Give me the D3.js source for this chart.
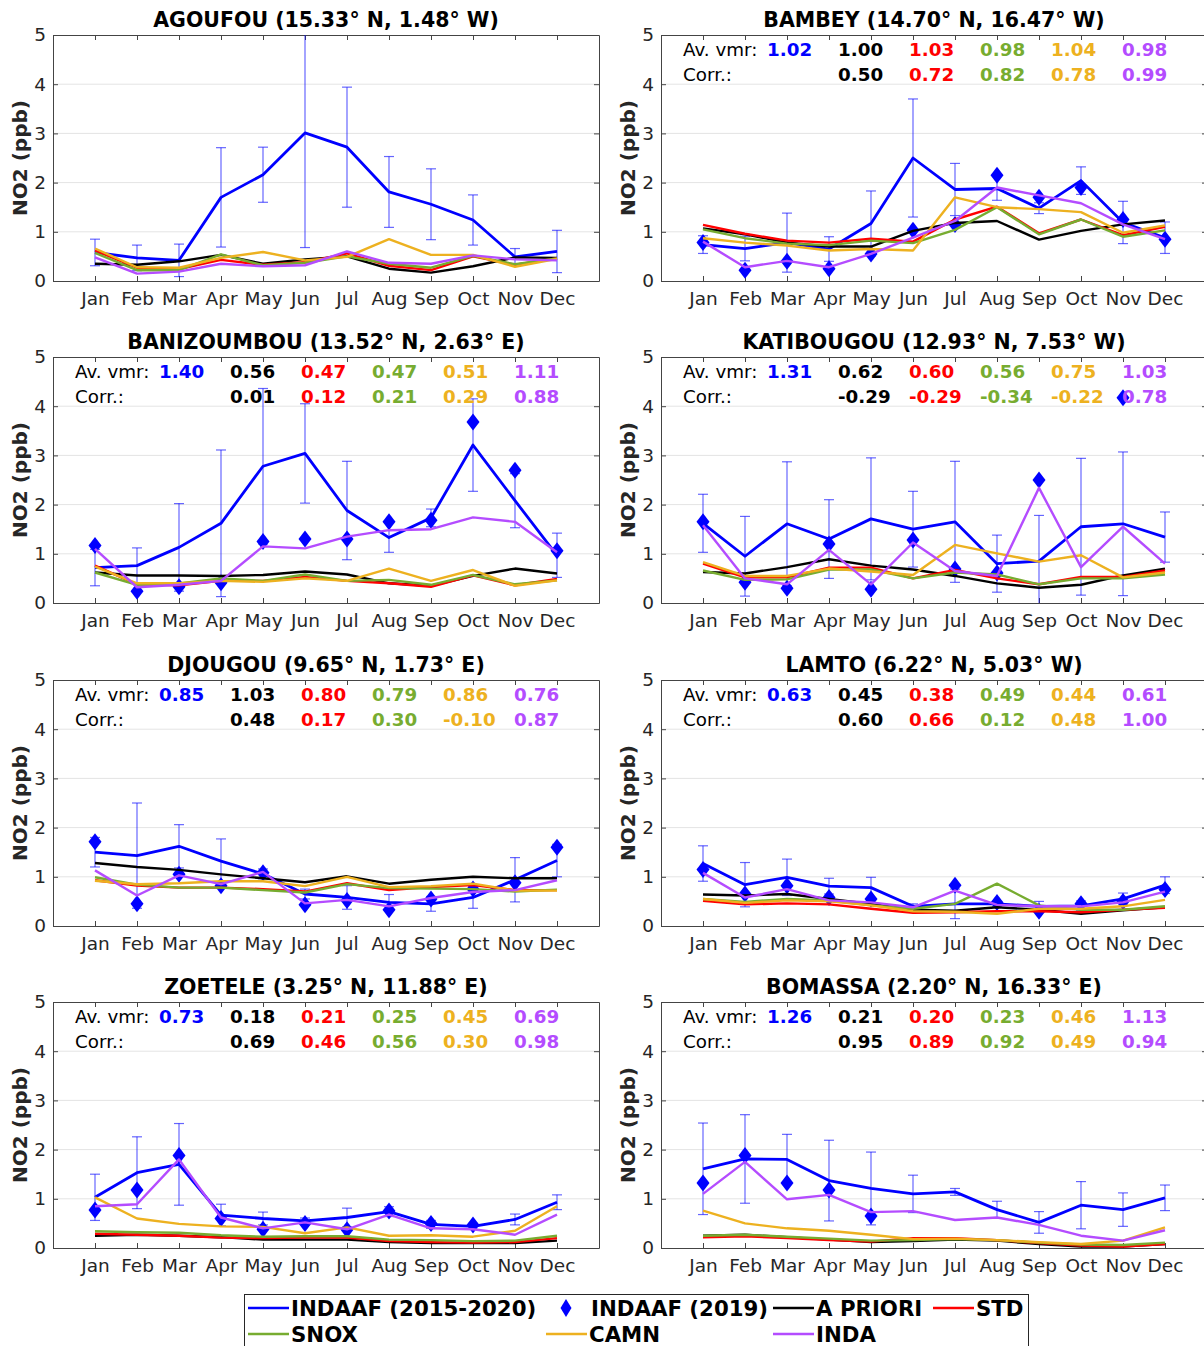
<!DOCTYPE html>
<html><head><meta charset="utf-8">
<script src="https://cdn.jsdelivr.net/npm/d3@7"></script>
<style>
body{margin:0;background:#fff}
svg{display:block}
text{font-family:"DejaVu Sans",sans-serif}
</style>
</head><body>
<svg id="c" width="1204" height="1346"></svg>
<script>
// ---------------- DATA ----------------
const months = ["Jan","Feb","Mar","Apr","May","Jun","Jul","Aug","Sep","Oct","Nov","Dec"];
const stations = ["AGOUFOU","BAMBEY","BANIZOUMBOU","KATIBOUGOU","DJOUGOU","LAMTO","ZOETELE","BOMASSA"];
const coords = ["15.33° N, 1.48° W","14.70° N, 16.47° W","13.52° N, 2.63° E","12.93° N, 7.53° W",
                "9.65° N, 1.73° E","6.22° N, 5.03° W","3.25° N, 11.88° E","2.20° N, 16.33° E"];
const seriesNames = ["INDAAF (2015-2020)","INDAAF (2019)","A PRIORI","STD","SNOX","CAMN","INDA"];

// INDAAF 2015-2020 monthly climatology (ppb)
const indaafClim = [
  [0.58,0.47,0.42,1.70,2.16,3.01,2.72,1.81,1.56,1.24,0.49,0.60],
  [0.74,0.66,0.78,0.65,1.17,2.50,1.86,1.88,1.48,2.04,1.19,0.88],
  [0.72,0.76,1.13,1.62,2.78,3.04,1.88,1.33,1.73,3.21,2.08,0.97],
  [1.62,0.95,1.61,1.30,1.71,1.50,1.65,0.80,0.85,1.55,1.61,1.34],
  [1.50,1.43,1.62,1.32,1.06,0.65,0.58,0.48,0.45,0.58,0.94,1.33],
  [1.27,0.84,0.99,0.81,0.78,0.40,0.45,0.45,0.40,0.41,0.55,0.83],
  [1.03,1.53,1.70,0.67,0.60,0.55,0.62,0.74,0.48,0.44,0.58,0.93],
  [1.61,1.81,1.80,1.37,1.21,1.10,1.14,0.78,0.52,0.87,0.78,1.02]
];
// INDAAF 2015-2020 standard deviation (error bars)
const indaafStd = [
  [0.27,0.26,0.33,1.01,0.56,2.33,1.22,0.72,0.72,0.51,0.17,0.43],
  [0.18,0.25,0.60,0.25,0.66,1.20,0.53,0.24,0.11,0.28,0.43,0.32],
  [0.37,0.36,0.89,1.49,1.58,1.01,1.00,0.30,0.18,0.94,0.55,0.45],
  [0.59,0.81,1.26,0.80,1.24,0.77,1.23,0.58,0.93,1.39,1.46,0.51],
  [0.30,1.07,0.44,0.45,0.10,0.10,0.24,0.16,0.15,0.22,0.45,0.33],
  [0.36,0.45,0.37,0.16,0.21,0.05,0.30,0.05,0.10,0.10,0.12,0.17],
  [0.47,0.73,0.83,0.22,0.13,0.06,0.19,0.10,0.08,0.06,0.11,0.15],
  [0.93,0.90,0.51,0.82,0.74,0.38,0.07,0.17,0.22,0.48,0.34,0.26]
];
// INDAAF 2019 monthly values (diamonds)
const indaaf2019 = [
  [null,null,null,null,null,null,null,null,null,null,null,null],
  [0.78,0.22,0.40,0.25,0.55,1.03,1.15,2.15,1.70,1.90,1.25,0.85],
  [1.17,0.24,0.33,0.41,1.25,1.30,1.30,1.65,1.68,3.68,2.70,1.06],
  [1.65,0.42,0.30,1.20,0.28,1.28,0.69,0.61,2.50,null,4.17,null],
  [1.71,0.45,1.05,0.82,1.08,0.43,0.52,0.33,0.55,0.75,0.88,1.60],
  [1.15,0.65,0.82,0.58,0.55,null,0.83,0.48,0.30,0.45,0.50,0.74],
  [0.77,1.18,1.88,0.60,0.38,0.50,0.37,0.75,0.50,0.47,null,null],
  [1.32,1.88,1.32,1.18,0.65,null,null,null,null,null,null,null]
];
const apriori = [
  [0.35,0.33,0.40,0.53,0.35,0.44,0.50,0.25,0.17,0.30,0.48,0.47],
  [1.07,0.95,0.78,0.70,0.70,1.02,1.18,1.22,0.84,1.02,1.15,1.23],
  [0.62,0.56,0.56,0.55,0.57,0.64,0.58,0.40,0.35,0.55,0.70,0.60],
  [0.63,0.60,0.73,0.89,0.76,0.68,0.55,0.40,0.31,0.37,0.56,0.70],
  [1.28,1.20,1.14,1.05,0.97,0.89,1.01,0.86,0.94,1.00,0.97,0.97],
  [0.64,0.62,0.65,0.55,0.45,0.33,0.31,0.38,0.33,0.25,0.32,0.38],
  [0.25,0.27,0.25,0.22,0.17,0.17,0.17,0.12,0.10,0.10,0.10,0.15],
  [0.25,0.27,0.22,0.17,0.12,0.14,0.17,0.15,0.08,0.03,0.03,0.08]
];
const stdRun = [
  [0.62,0.27,0.24,0.43,0.33,0.38,0.56,0.31,0.22,0.50,0.33,0.46],
  [1.14,0.96,0.82,0.78,0.86,0.80,1.25,1.51,0.97,1.25,0.93,1.10],
  [0.76,0.38,0.36,0.45,0.45,0.53,0.45,0.40,0.33,0.56,0.36,0.49],
  [0.80,0.52,0.52,0.72,0.72,0.50,0.67,0.50,0.38,0.53,0.53,0.66],
  [0.93,0.82,0.78,0.78,0.75,0.70,0.87,0.73,0.79,0.83,0.73,0.73],
  [0.51,0.44,0.46,0.44,0.35,0.27,0.28,0.30,0.30,0.28,0.33,0.37],
  [0.29,0.27,0.25,0.21,0.20,0.21,0.21,0.14,0.12,0.11,0.12,0.20],
  [0.22,0.24,0.20,0.16,0.13,0.20,0.20,0.16,0.10,0.05,0.03,0.08]
];
const snox = [
  [0.57,0.22,0.22,0.54,0.32,0.37,0.50,0.35,0.27,0.51,0.34,0.46],
  [1.05,0.87,0.76,0.73,0.82,0.77,1.04,1.50,0.95,1.25,0.90,1.03],
  [0.62,0.37,0.40,0.50,0.45,0.58,0.45,0.47,0.37,0.57,0.38,0.46],
  [0.66,0.47,0.48,0.68,0.68,0.50,0.62,0.58,0.38,0.50,0.50,0.58],
  [0.99,0.84,0.78,0.78,0.73,0.68,0.85,0.77,0.76,0.75,0.70,0.74],
  [0.55,0.49,0.55,0.52,0.42,0.35,0.45,0.86,0.42,0.33,0.33,0.40],
  [0.34,0.32,0.31,0.26,0.23,0.24,0.24,0.17,0.16,0.14,0.15,0.25],
  [0.25,0.27,0.23,0.19,0.15,0.16,0.18,0.16,0.11,0.07,0.06,0.11]
];
const camn = [
  [0.66,0.28,0.27,0.47,0.59,0.42,0.49,0.85,0.53,0.53,0.29,0.45],
  [0.87,0.78,0.72,0.62,0.65,0.62,1.70,1.50,1.46,1.40,0.98,1.13],
  [0.74,0.40,0.40,0.45,0.43,0.50,0.45,0.70,0.45,0.67,0.35,0.46],
  [0.83,0.55,0.55,0.70,0.64,0.57,1.18,1.01,0.84,0.97,0.52,0.62],
  [0.92,0.85,0.87,0.91,0.91,0.81,1.00,0.79,0.81,0.86,0.72,0.72],
  [0.55,0.47,0.52,0.50,0.42,0.30,0.29,0.25,0.35,0.35,0.40,0.53],
  [1.03,0.60,0.49,0.44,0.43,0.30,0.42,0.25,0.26,0.23,0.35,0.85],
  [0.76,0.50,0.40,0.35,0.27,0.18,0.19,0.16,0.12,0.08,0.15,0.42]
];
const inda = [
  [0.48,0.15,0.19,0.35,0.30,0.32,0.60,0.37,0.35,0.52,0.44,0.42],
  [0.80,0.28,0.41,0.28,0.55,0.88,1.22,1.90,1.74,1.58,1.15,0.85],
  [1.10,0.32,0.37,0.45,1.15,1.11,1.35,1.48,1.50,1.74,1.65,1.03],
  [1.58,0.50,0.38,1.08,0.38,1.23,0.65,0.55,2.34,0.73,1.55,0.80],
  [1.13,0.62,1.03,0.85,1.10,0.46,0.53,0.40,0.57,0.69,0.73,0.93],
  [1.08,0.58,0.75,0.52,0.48,0.38,0.72,0.43,0.40,0.40,0.48,0.70],
  [0.85,0.89,1.80,0.62,0.40,0.52,0.38,0.68,0.40,0.38,0.27,0.68],
  [1.10,1.75,0.99,1.08,0.73,0.75,0.57,0.62,0.47,0.25,0.15,0.36]
];
// Annotations: average vmr (INDAAF, A PRIORI, STD, SNOX, CAMN, INDA) and correlation (models)
const avVmr = [
  null,
  [1.02,1.00,1.03,0.98,1.04,0.98],
  [1.40,0.56,0.47,0.47,0.51,1.11],
  [1.31,0.62,0.60,0.56,0.75,1.03],
  [0.85,1.03,0.80,0.79,0.86,0.76],
  [0.63,0.45,0.38,0.49,0.44,0.61],
  [0.73,0.18,0.21,0.25,0.45,0.69],
  [1.26,0.21,0.20,0.23,0.46,1.13]
];
const corr = [
  null,
  [0.50,0.72,0.82,0.78,0.99],
  [0.01,0.12,0.21,0.29,0.88],
  [-0.29,-0.29,-0.34,-0.22,0.78],
  [0.48,0.17,0.30,-0.10,0.87],
  [0.60,0.66,0.12,0.48,1.00],
  [0.69,0.46,0.56,0.30,0.98],
  [0.95,0.89,0.92,0.49,0.94]
];
const yTicks = [0,1,2,3,4,5];

// ---------------- DRAW ----------------
const C = {blue:"#0000FF", black:"#000000", red:"#FF0000", green:"#77AC30", orange:"#EDB120", purple:"#B44CFF"};
const modelSeries = [
  {data:apriori, color:C.black},
  {data:stdRun, color:C.red},
  {data:snox, color:C.green},
  {data:camn, color:C.orange},
  {data:inda, color:C.purple}
];
const annColors = [C.blue, C.black, C.red, C.green, C.orange, C.purple];
const annOffsets = [106,177,248,319,390,461];

const svg = d3.select("#c");
const colLeft = [53, 661], rowTop = [35, 357, 680, 1002], pw = 546, ph = 246;
const axisColor = "#444", labelColor = "#262626";

function styleAxis(sel){
  sel.select(".domain").attr("stroke", axisColor).attr("stroke-width",1);
  sel.selectAll(".tick line").attr("stroke", axisColor).attr("stroke-width",1);
  sel.selectAll(".tick text").attr("fill", labelColor).attr("font-size","18.5px")
     .attr("font-family","DejaVu Sans");
}
function fmt(v){ return v.toFixed(2); }
const diamond = (hw,hh)=>`M0,${-hh}L${hw},0L0,${hh}L${-hw},0Z`;

stations.forEach((name,i)=>{
  const col = i%2, row = Math.floor(i/2);
  const x0 = colLeft[col], y0 = rowTop[row];
  const x = d3.scaleLinear().domain([0,13]).range([x0, x0+pw]);
  const y = d3.scaleLinear().domain([0,5]).range([y0+ph, y0]);
  const g = svg.append("g");

  g.append("clipPath").attr("id","clip"+i).append("rect")
    .attr("x",x0).attr("y",y0).attr("width",pw).attr("height",ph);

  // grid
  g.append("g").selectAll("line").data(yTicks.filter(t=>t>0 && t<5)).join("line")
    .attr("x1",x0).attr("x2",x0+pw).attr("y1",d=>y(d)).attr("y2",d=>y(d))
    .attr("stroke","#e4e4e4").attr("stroke-width",1);

  // axes
  const xb = g.append("g").attr("transform",`translate(0,${y0+ph})`)
    .call(d3.axisBottom(x).tickValues(d3.range(1,13)).tickFormat(d=>months[d-1])
      .tickSizeInner(-5).tickSizeOuter(0).tickPadding(11));
  styleAxis(xb);
  const xt = g.append("g").attr("transform",`translate(0,${y0})`)
    .call(d3.axisTop(x).tickValues(d3.range(1,13)).tickFormat("")
      .tickSizeInner(-5).tickSizeOuter(0));
  styleAxis(xt);
  const yl = g.append("g").attr("transform",`translate(${x0},0)`)
    .call(d3.axisLeft(y).tickValues(yTicks).tickFormat(d3.format("d"))
      .tickSizeInner(-5).tickSizeOuter(0).tickPadding(7));
  styleAxis(yl);
  const yr = g.append("g").attr("transform",`translate(${x0+pw},0)`)
    .call(d3.axisRight(y).tickValues(yTicks).tickFormat("")
      .tickSizeInner(-5).tickSizeOuter(0));
  styleAxis(yr);

  // title
  g.append("text").attr("x",x0+pw/2).attr("y",y0-8.5).attr("text-anchor","middle")
    .attr("font-weight","bold").attr("font-size","20.5px").attr("fill","#000")
    .text(`${name} (${coords[i]})`);
  // y label
  g.append("text").attr("transform",`translate(${x0-26},${y0+ph/2}) rotate(-90)`)
    .attr("text-anchor","middle").attr("font-weight","bold").attr("font-size","20px")
    .attr("fill","#262626").text("NO2 (ppb)");

  const plot = g.append("g").attr("clip-path",`url(#clip${i})`);
  const lineGen = d3.line().defined(d=>d!=null).x((d,j)=>x(j+1)).y(d=>y(d));

  // error bars
  const eb = indaafClim[i].map((m,j)=>({m, s:indaafStd[i][j], j}));
  const ebG = plot.append("g").attr("stroke",C.blue).attr("stroke-opacity",0.6).attr("stroke-width",1.2);
  ebG.selectAll("line.v").data(eb).join("line").attr("class","v")
    .attr("x1",d=>x(d.j+1)).attr("x2",d=>x(d.j+1))
    .attr("y1",d=>y(d.m-d.s)).attr("y2",d=>y(d.m+d.s));
  ebG.selectAll("line.t").data(eb).join("line").attr("class","t")
    .attr("x1",d=>x(d.j+1)-5).attr("x2",d=>x(d.j+1)+5)
    .attr("y1",d=>y(d.m+d.s)).attr("y2",d=>y(d.m+d.s));
  ebG.selectAll("line.b").data(eb).join("line").attr("class","b")
    .attr("x1",d=>x(d.j+1)-5).attr("x2",d=>x(d.j+1)+5)
    .attr("y1",d=>y(d.m-d.s)).attr("y2",d=>y(d.m-d.s));

  // INDAAF climatology line
  plot.append("path").datum(indaafClim[i]).attr("d",lineGen)
    .attr("fill","none").attr("stroke",C.blue).attr("stroke-width",2.8).attr("stroke-linejoin","round");

  // diamonds 2019
  plot.append("g").selectAll("path").data(indaaf2019[i].map((v,j)=>({v,j})).filter(d=>d.v!=null))
    .join("path").attr("d",diamond(6.5,8.5))
    .attr("transform",d=>`translate(${x(d.j+1)},${y(d.v)})`).attr("fill",C.blue);

  // model lines
  modelSeries.forEach(s=>{
    plot.append("path").datum(s.data[i]).attr("d",lineGen)
      .attr("fill","none").attr("stroke",s.color).attr("stroke-width",2.4).attr("stroke-linejoin","round");
  });

  // annotations
  if(avVmr[i]){
    const ta = g.append("g").attr("font-size","18.3px");
    ta.append("text").attr("x",x0+22).attr("y",y0+21).attr("fill","#000").text("Av. vmr:");
    ta.append("text").attr("x",x0+22).attr("y",y0+46).attr("fill","#000").text("Corr.:");
    avVmr[i].forEach((v,k)=>{
      ta.append("text").attr("x",x0+annOffsets[k]).attr("y",y0+21).attr("font-weight","bold")
        .attr("fill",annColors[k]).text(fmt(v));
    });
    corr[i].forEach((v,k)=>{
      ta.append("text").attr("x",x0+annOffsets[k+1]).attr("y",y0+46).attr("font-weight","bold")
        .attr("fill",annColors[k+1]).text(fmt(v));
    });
  }
});

// ---------------- LEGEND ----------------
const lg = svg.append("g");
lg.append("rect").attr("x",244.5).attr("y",1294.5).attr("width",784).attr("height",60)
  .attr("fill","#fff").attr("stroke","#262626").attr("stroke-width",1);
const legendItems = [
  {kind:"line", color:C.blue, x:248, row:0, label:seriesNames[0]},
  {kind:"diamond", color:C.blue, x:548, row:0, label:seriesNames[1]},
  {kind:"line", color:C.black, x:773, row:0, label:seriesNames[2]},
  {kind:"line", color:C.red, x:933, row:0, label:seriesNames[3]},
  {kind:"line", color:C.green, x:248, row:1, label:seriesNames[4]},
  {kind:"line", color:C.orange, x:546, row:1, label:seriesNames[5]},
  {kind:"line", color:C.purple, x:773, row:1, label:seriesNames[6]}
];
const rowY = [1308, 1334];
legendItems.forEach(it=>{
  const cy = rowY[it.row];
  if(it.kind==="line"){
    lg.append("line").attr("x1",it.x).attr("x2",it.x+41).attr("y1",cy).attr("y2",cy)
      .attr("stroke",it.color).attr("stroke-width",2.5);
  } else {
    lg.append("path").attr("d",diamond(5.5,9)).attr("transform",`translate(${it.x+18},${cy})`).attr("fill",it.color);
  }
  lg.append("text").attr("x",it.x+43).attr("y",cy+7.6).attr("font-weight","bold")
    .attr("font-size","21.3px").attr("fill","#000").text(it.label);
});
</script>
</body></html>
